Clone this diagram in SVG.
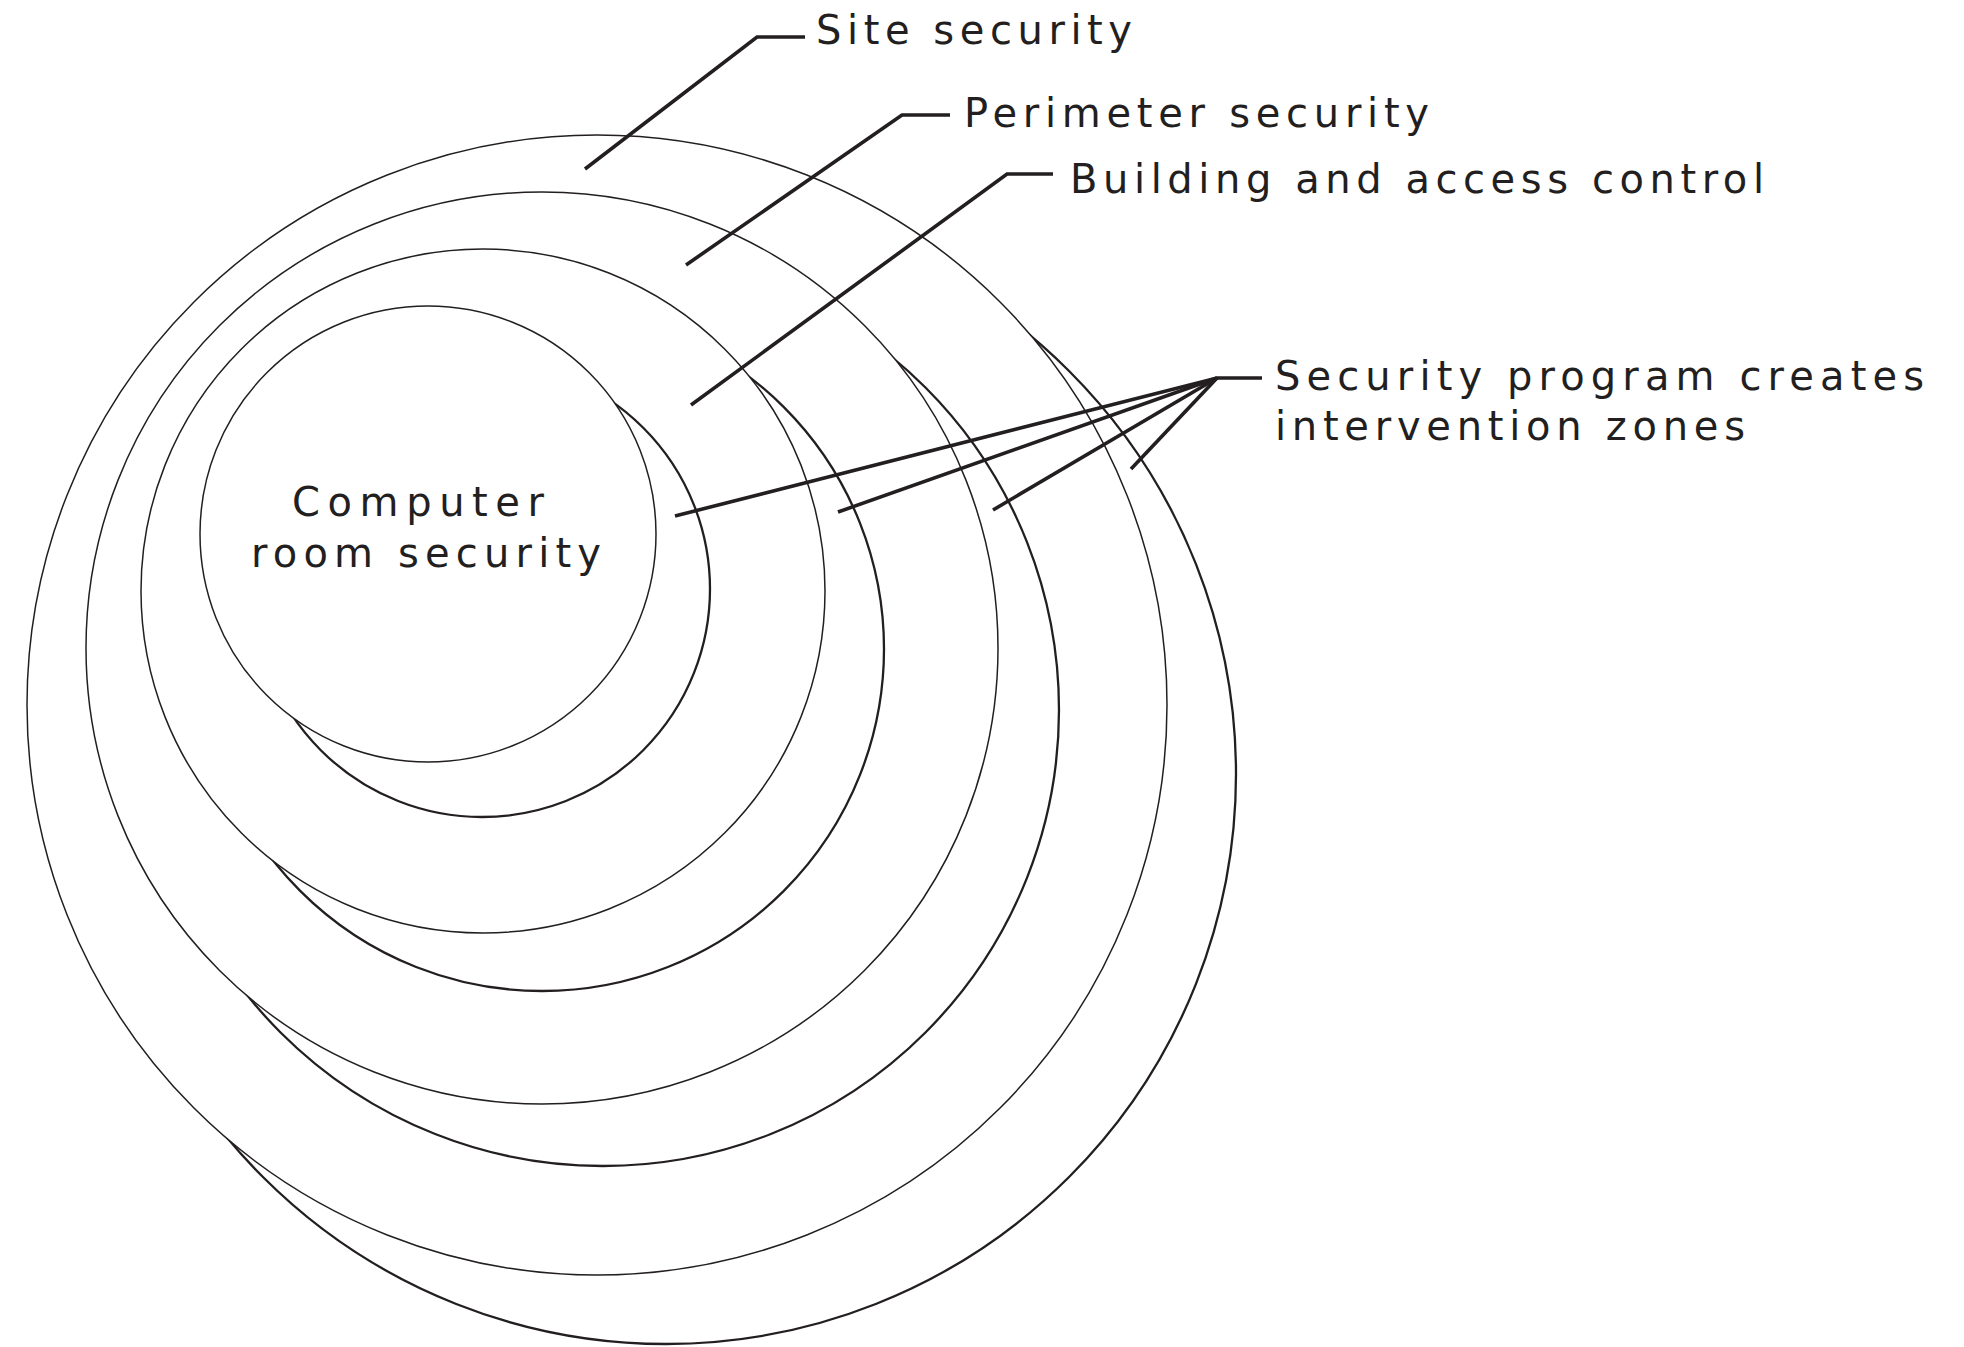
<svg xmlns="http://www.w3.org/2000/svg" width="1964" height="1347" viewBox="0 0 1964 1347">
  <style>
    .bg { fill: #ffffff; }
    .thin { fill: #ffffff; stroke: #231f20; stroke-width: 1.5; }
    .thick { fill: #ffffff; stroke: #231f20; stroke-width: 2.3; }
    .leader { fill: none; stroke: #231f20; stroke-width: 3.6; stroke-linejoin: miter; }
    .lbl { font-family: "DejaVu Sans", Verdana, "Liberation Sans", sans-serif; font-size: 40px; fill: #231f20; }
  </style>
  <rect class="bg" x="0" y="0" width="1964" height="1347"/>

  <g id="zone-site">
    <circle class="thick" cx="666" cy="774" r="570"/>
    <circle class="thin" cx="597" cy="705" r="570"/>
  </g>
  <g id="zone-perimeter">
    <circle class="thick" cx="603" cy="710" r="456"/>
    <circle class="thin" cx="542" cy="648" r="456"/>
  </g>
  <g id="zone-building">
    <circle class="thick" cx="542" cy="649" r="342"/>
    <circle class="thin" cx="483" cy="591" r="342"/>
  </g>
  <g id="zone-computer-room">
    <circle class="thick" cx="482" cy="589" r="228"/>
    <circle class="thin" cx="428" cy="534" r="228"/>
    <text class="lbl" x="292" y="516" textLength="252" lengthAdjust="spacing">Computer</text>
    <text class="lbl" x="251" y="567" textLength="350" lengthAdjust="spacing">room security</text>
  </g>

  <g id="connectors">
    <polyline class="leader" points="585,169 757,37 805,37"/>
    <polyline class="leader" points="686,265 902,115 950,115"/>
    <polyline class="leader" points="691,405 1007,174 1053,174"/>
    <polyline class="leader" points="675,516 1217,378 1262,378"/>
    <polyline class="leader" points="838,512 1217,378"/>
    <polyline class="leader" points="993,510 1217,378"/>
    <polyline class="leader" points="1131,469 1217,378"/>
  </g>

  <g id="label-site">
    <text class="lbl" x="816" y="44" textLength="316" lengthAdjust="spacing">Site security</text>
  </g>
  <g id="label-perimeter">
    <text class="lbl" x="964" y="127" textLength="465" lengthAdjust="spacing">Perimeter security</text>
  </g>
  <g id="label-building">
    <text class="lbl" x="1070" y="193" textLength="694" lengthAdjust="spacing">Building and access control</text>
  </g>
  <g id="label-program">
    <text class="lbl" x="1275" y="390" textLength="649" lengthAdjust="spacing">Security program creates</text>
    <text class="lbl" x="1275" y="440" textLength="470" lengthAdjust="spacing">intervention zones</text>
  </g>
</svg>
